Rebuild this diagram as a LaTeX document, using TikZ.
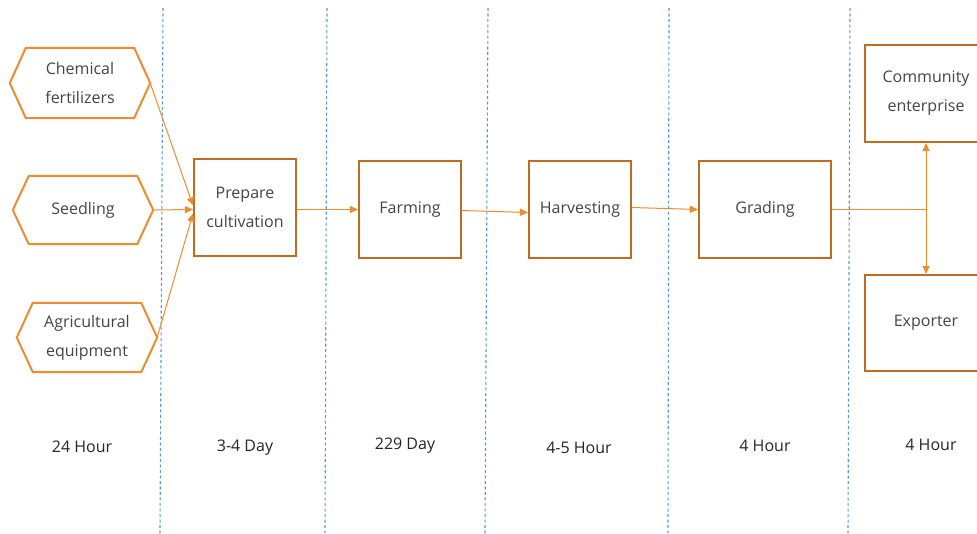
\documentclass[tikz,border=0pt]{standalone}
\usepackage{fontspec}
\setmainfont{Open Sans}
\usetikzlibrary{arrows.meta,calc}
\definecolor{hexc}{HTML}{EE8D2F}
\definecolor{boxc}{HTML}{BE6D1F}
\definecolor{arrc}{HTML}{EE8B2E}
\definecolor{sepc}{HTML}{5B9BD5}
\definecolor{txtc}{HTML}{454545}
\definecolor{labc}{HTML}{262626}
\tikzset{
  lbl/.style={font=\fontsize{16}{29}\selectfont, text=txtc, align=center},
  hexbox/.style={lbl, draw=none, minimum width=140pt, minimum height=69pt, inner sep=0pt},
  hexline/.style={draw=hexc, line width=2pt, line join=miter},
  procbox/.style={lbl, draw=boxc, line width=2pt, minimum width=102pt, minimum height=97pt, inner sep=0pt},
  flow/.style={draw=arrc, line width=1pt, -{Triangle[length=8pt,width=7pt]}},
  sep/.style={draw=sepc, line width=1.1pt, dash pattern=on 3pt off 2.5pt},
  timelbl/.style={font=\fontsize{16}{20}\selectfont, text=labc}
}
\newcommand{\hexdraw}[1]{%
  \draw[hexline] (#1.west) -- ([xshift=16pt]#1.north west) -- ([xshift=-16pt]#1.north east)
    -- (#1.east) -- ([xshift=-16pt]#1.south east) -- ([xshift=16pt]#1.south west) -- cycle;}
\begin{document}
\begin{tikzpicture}[x=1pt,y=-1pt]
\useasboundingbox (0,0) rectangle (977,533);
\clip (0,0) rectangle (977,533);
\fill[white] (0,0) rectangle (977,533);

% separators
\draw[sep] (163,8) -- (160,533);
\draw[sep] (327,8) -- (325,533);
\draw[sep] (488,8) -- (485,533);
\draw[sep] (669,8) -- (668,533);
\draw[sep] (850,8) -- (848,533);

% input hexagons
\node[hexbox, minimum height=70pt] (chem) at (80,83) {Chemical\\fertilizers};
\node[hexbox, minimum height=68pt] (seed) at (83,210) {Seedling};
\node[hexbox, minimum height=69pt] (agri) at (87,337.5) {Agricultural\\equipment};
\hexdraw{chem}
\hexdraw{seed}
\hexdraw{agri}

% process boxes
\node[procbox] (prep) at (245,207.5) {Prepare\\cultivation};
\node[procbox] (farm) at (410,209.5) {Farming};
\node[procbox] (harv) at (580,209.5) {Harvesting};
\node[procbox, minimum width=132pt] (grad) at (765,209.5) {Grading};
\node[procbox, minimum width=122pt] (comm) at (926,93.5) {Community\\enterprise};
\node[procbox, minimum width=122pt, minimum height=96pt] (expo) at (926,323) {Exporter};

% connectors
\draw[flow] (chem.east) -- ([yshift=2pt]prep.west);
\draw[flow] (seed.east) -- ([yshift=-2pt]prep.west);
\draw[flow] (agri.east) -- ([yshift=-6pt]prep.west);
\draw[flow] ([yshift=-2pt]prep.east) -- (farm.west);
\draw[flow] ([yshift=-1pt]farm.east) -- ([yshift=-3pt]harv.west);
\draw[flow] ([yshift=2pt]harv.east) -- (grad.west);
\coordinate (j) at (926,209.5);
\draw[draw=arrc, line width=1pt] (grad.east) -- (j);
\draw[flow] (j) -- (comm.south);
\draw[flow] (j) -- (expo.north);

% time labels
\node[timelbl] (t1) at (82,447) {24 Hour};
\node[timelbl] (t2) at (245,448) {3-4 Day};
\node[timelbl] (t3) at (405,446) {229 Day};
\node[timelbl] (t4) at (579,448) {4-5 Hour};
\node[timelbl] (t5) at (765,446) {4 Hour};
\node[timelbl] (t6) at (931,445) {4 Hour};
\end{tikzpicture}
\end{document}
